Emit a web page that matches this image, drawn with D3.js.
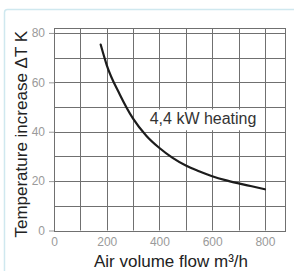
<!DOCTYPE html>
<html>
<head>
<meta charset="utf-8">
<script src="https://cdn.jsdelivr.net/npm/d3@7"></script>
<style>
  body { margin: 0; background: #fff; }
  svg { display: block; font-family: "Liberation Sans", Arial, sans-serif; }
  .tick text { fill: #9a9a9a; font-size: 12px; }
</style>
</head>
<body>
<script>
// Curve (air volume flow m3/h -> temperature increase K)
var airFlow = [177, 200, 250, 300, 350, 400, 450, 500, 550, 600, 650, 700, 750, 800];
var tempRise = [75.3, 67, 55, 45.3, 38.4, 33.4, 29.4, 26.3, 24, 22, 20.4, 19.1, 17.9, 16.7];
var xTicks = [0, 200, 400, 600, 800];
var yTicks = [0, 20, 40, 60, 80];
var seriesLabel = "4,4 kW heating";

var svgWidth = 294;
var svgHeight = 271;

var margin = { top: 28, right: 8, bottom: 40.5, left: 54 };
var chartWidth = svgWidth - margin.left - margin.right;
var chartHeight = svgHeight - margin.top - margin.bottom;

var svg = d3.select("body")
  .append("svg")
  .attr("width", svgWidth)
  .attr("height", svgHeight);

// light blue panel frame
svg.append("rect")
  .attr("x", 4.5)
  .attr("y", 9.5)
  .attr("width", 400)
  .attr("height", 400)
  .attr("rx", 3)
  .attr("fill", "none")
  .attr("stroke", "#cfe8ef")
  .attr("stroke-width", 1.5);

var chartGroup = svg.append("g")
  .attr("transform", `translate(${margin.left}, ${margin.top})`);

var xScale = d3.scaleLinear()
  .domain([0, 880])
  .range([0, chartWidth]);

var yScale = d3.scaleLinear()
  .domain([0, 82])
  .range([chartHeight, 0]);

// grid, every 100 m3/h and every 10 K
var gridColor = "#707070";
chartGroup.append("g")
  .selectAll("line")
  .data(d3.range(0, 801, 100))
  .enter().append("line")
  .attr("x1", d => Math.round(xScale(d)) + 0.5)
  .attr("x2", d => Math.round(xScale(d)) + 0.5)
  .attr("y1", 0)
  .attr("y2", chartHeight)
  .attr("stroke", gridColor);

chartGroup.append("g")
  .selectAll("line")
  .data(d3.range(0, 81, 10))
  .enter().append("line")
  .attr("x1", 0)
  .attr("x2", chartWidth)
  .attr("y1", d => Math.round(yScale(d)) + 0.5)
  .attr("y2", d => Math.round(yScale(d)) + 0.5)
  .attr("stroke", gridColor);

// frame on top and right
chartGroup.append("rect")
  .attr("x", 0.5)
  .attr("y", 0.5)
  .attr("width", Math.round(chartWidth) - 1)
  .attr("height", Math.round(chartHeight))
  .attr("fill", "none")
  .attr("stroke", gridColor);

// axes
var leftAxis = d3.axisLeft(yScale)
  .tickValues(yTicks)
  .tickSize(5)
  .tickPadding(4);

var bottomAxis = d3.axisBottom(xScale)
  .tickValues(xTicks)
  .tickSize(0)
  .tickPadding(7);

chartGroup.append("g")
  .call(leftAxis)
  .call(g => g.select(".domain").remove())
  .call(g => g.selectAll(".tick line").attr("stroke", "#999"));

chartGroup.append("g")
  .attr("transform", "translate(0, " + chartHeight + ")")
  .call(bottomAxis)
  .call(g => g.select(".domain").remove());

// white box behind the series label
chartGroup.append("rect")
  .attr("x", xScale(345))
  .attr("y", yScale(49))
  .attr("width", xScale(790) - xScale(345))
  .attr("height", yScale(40.6) - yScale(49))
  .attr("fill", "#fff");

// the curve
var line = d3.line()
  .x((d, i) => xScale(airFlow[i]))
  .y(d => yScale(d))
  .curve(d3.curveMonotoneX);

chartGroup.append("path")
  .attr("d", line(tempRise))
  .attr("fill", "none")
  .attr("stroke", "#1c1c1c")
  .attr("stroke-width", 2.2)
  .attr("stroke-linecap", "round");

chartGroup.append("text")
  .attr("x", xScale(363))
  .attr("y", yScale(43))
  .attr("fill", "#333")
  .style("font-size", "16px")
  .text(seriesLabel);

// axis titles
svg.append("text")
  .attr("transform", "translate(27, " + (margin.top + chartHeight / 2 + 5) + ") rotate(-90)")
  .attr("text-anchor", "middle")
  .attr("fill", "#222")
  .style("font-size", "17px")
  .text("Temperature increase ΔT K");

svg.append("text")
  .attr("x", margin.left + chartWidth / 2 + 1)
  .attr("y", 267)
  .attr("text-anchor", "middle")
  .attr("fill", "#222")
  .style("font-size", "17px")
  .text("Air volume flow m³/h");
</script>
</body>
</html>
